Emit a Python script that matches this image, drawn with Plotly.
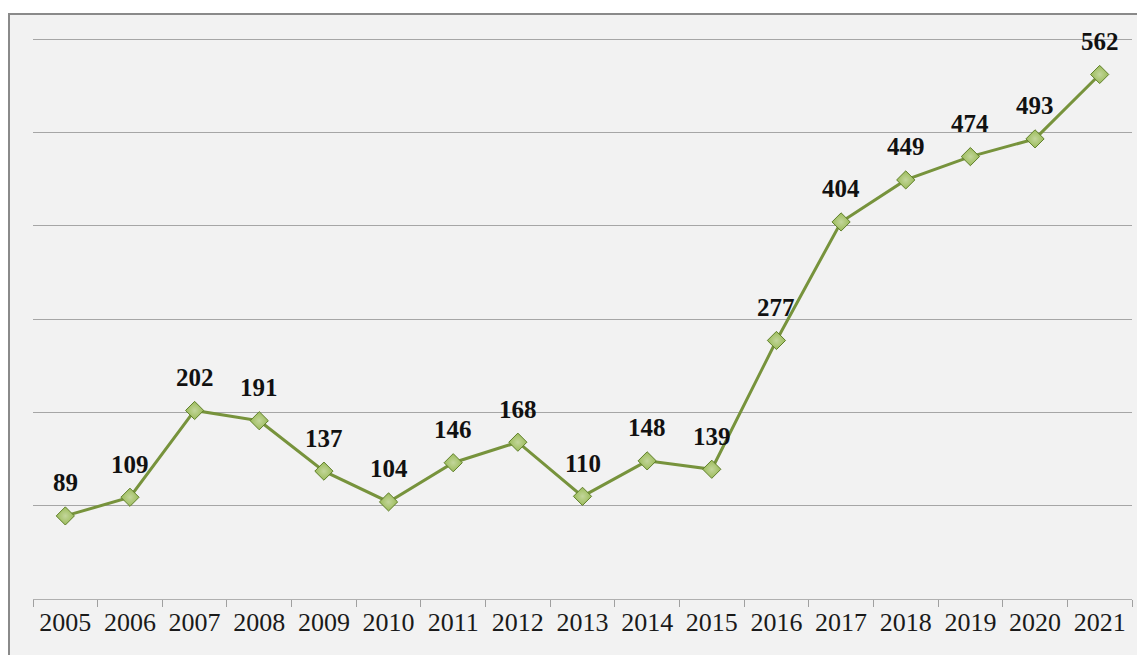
import plotly.graph_objects as go

years = [str(y) for y in range(2005, 2022)]
values = [89, 109, 202, 191, 137, 104, 146, 168, 110, 148, 139, 277, 404, 449, 474, 493, 562]

# page has an 8px body margin: figure spans page (8,8)-(1145,655)
OFF = 8
W, H = 1145 - OFF, 655 - OFF
L, R, T, B = 33 - OFF, 13, 22, 56
pw, ph = W - L - R, H - T - B
PX_PER_UNIT = 560 / 600.0
ytop = ph / PX_PER_UNIT

fig = go.Figure()
fig.add_trace(go.Scatter(
    x=years, y=values, mode="lines+markers",
    line=dict(color="#77933c", width=3),
    marker=dict(symbol="diamond", size=14, color="#9bbb59",
                line=dict(color="#5f7f2a", width=1),
                gradient=dict(type="radial", color="#c3d69b")),
    hoverinfo="x+y", showlegend=False,
))

# category axis: annotation positions use category serial index
for i, v in enumerate(values):
    fig.add_annotation(x=i, y=v, text="<b>" + str(v) + "</b>", showarrow=False, yshift=33,
                       font=dict(family="Liberation Serif", size=25, color="#111111"),
                       xanchor="center", yanchor="middle")

# outer frame (left/top border visible)
fig.add_shape(type="rect", xref="paper", yref="paper",
              x0=(1 - L) / pw, x1=(W + 10 - L) / pw,
              y0=-(B + 10) / ph, y1=(T + ph - (14 - OFF)) / ph,
              fillcolor="#f2f2f2", line=dict(color="#8a8a8a", width=2), layer="below")

fig.update_layout(
    width=W, height=H,
    margin=dict(l=L, r=R, t=T, b=B),
    paper_bgcolor="white", plot_bgcolor="rgba(0,0,0,0)",
    xaxis=dict(type="category", range=[-0.5, 16.5], tickson="boundaries",
               ticks="outside", ticklen=7, tickcolor="#a0a0a0", tickwidth=1,
               showline=True, linecolor="#b0b0b0", linewidth=1,
               showgrid=False, zeroline=False,
               tickfont=dict(family="Liberation Serif", size=26, color="#1a1a1a")),
    yaxis=dict(range=[0, ytop], tickvals=[100, 200, 300, 400, 500, 600], showticklabels=False,
               showgrid=True, gridcolor="#a6a6a6", gridwidth=1,
               zeroline=False, showline=False, ticks=""),
)

fig.write_html("out.html")
